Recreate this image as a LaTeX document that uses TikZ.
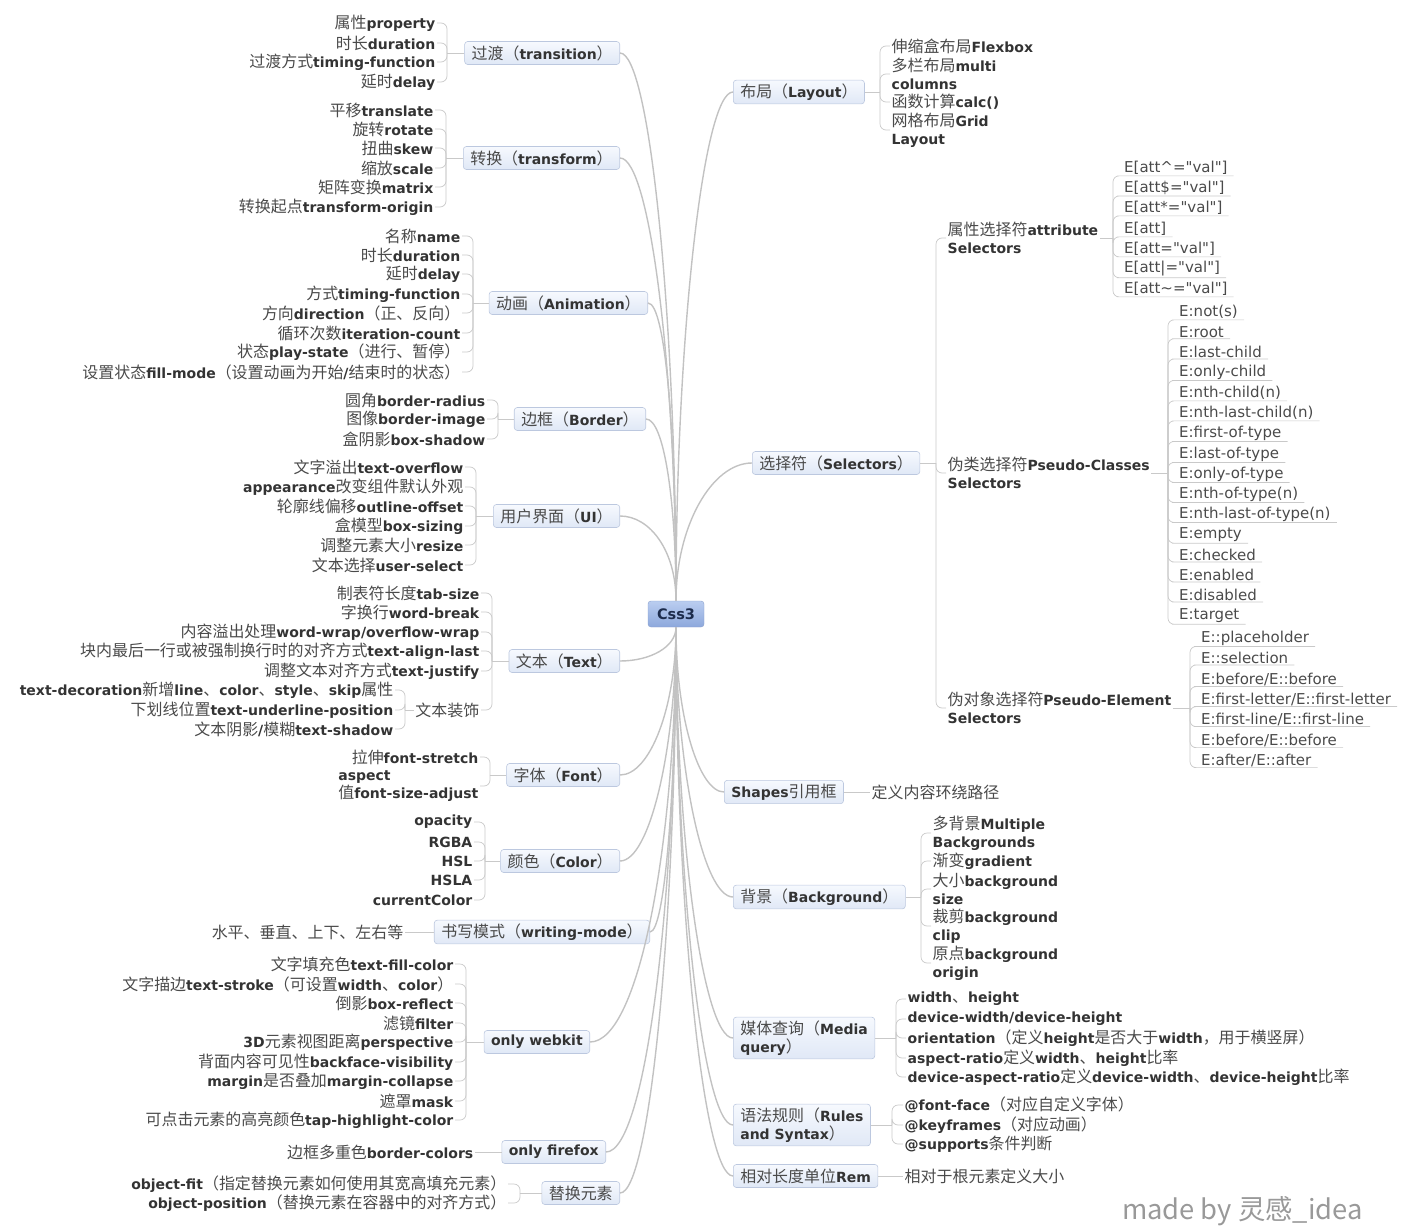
\documentclass[tikz,border=0pt]{standalone}
\usepackage{fontspec}
\setmainfont{Noto Sans CJK SC}[Scale=1.14]
\newfontfamily\enfont{DejaVu Sans}
\newcommand\kw[1]{{\enfont\bfseries\color{kwink}#1}}
\definecolor{ink}{HTML}{4A4A4A}
\definecolor{kwink}{HTML}{333333}
\definecolor{rootink}{HTML}{1C2B4C}
\definecolor{boxline}{HTML}{BCC8DF}
\definecolor{boxtop}{HTML}{F6F9FE}
\definecolor{boxbot}{HTML}{E0E8F6}
\definecolor{roottop}{HTML}{BACDF0}
\definecolor{rootbot}{HTML}{8DA8DC}
\definecolor{rootline}{HTML}{8AA0CC}
\definecolor{twig}{HTML}{C9C9C9}
\definecolor{bough}{HTML}{C2C2C2}
\tikzset{
  root/.style={draw=rootline, top color=roottop, bottom color=rootbot, rounded corners=3pt,
    minimum width=56pt, minimum height=26pt, text=rootink,
    font={\fontsize{14.5}{16}\selectfont\enfont\bfseries}},
  branch/.style={draw=boxline, top color=boxtop, bottom color=boxbot, rounded corners=3pt,
    inner xsep=7pt, inner ysep=3.5pt, minimum height=23pt, align=left, line width=0.6pt},
  leafl/.style={anchor=east, inner sep=1.5pt, align=left},
  leafr/.style={anchor=west, inner sep=1.5pt, align=left},
  selleaf/.style={anchor=west, inner sep=1pt, font={\fontsize{15}{18}\selectfont\enfont}},
  twigline/.style={draw=twig, line width=0.7pt, rounded corners=6pt},
  boughline/.style={draw=bough, line width=1.4pt}
}
\begin{document}
\begin{tikzpicture}[x=1pt,y=-1pt,font=\fontsize{14}{18}\selectfont,text=ink]
\useasboundingbox (0,0) rectangle (1414,1228);
% centre
\node[root] (css) at (676,614) {Css3};

% left side
\node[branch,anchor=east] (tran) at (620,53) {过渡（\kw{transition}）};
\node[branch,anchor=east] (trf) at (620,158) {转换（\kw{transform}）};
\node[branch,anchor=east] (ani) at (648,303) {动画（\kw{Animation}）};
\node[branch,anchor=east] (bor) at (646,419) {边框（\kw{Border}）};
\node[branch,anchor=east] (ui) at (620,516) {用户界面（\kw{UI}）};
\node[branch,anchor=east] (txt) at (620,661) {文本（\kw{Text}）};
\node[branch,anchor=east] (fnt) at (620,775) {字体（\kw{Font}）};
\node[branch,anchor=east] (clr) at (620,861) {颜色（\kw{Color}）};
\node[branch,anchor=east] (wm) at (650,932) {书写模式（\kw{writing-mode}）};
\node[branch,anchor=east] (wk) at (590,1042) {\kw{only webkit}};
\node[branch,anchor=east] (ff) at (606,1152) {\kw{only firefox}};
\node[branch,anchor=east] (rep) at (620,1193) {替换元素};

% right side
\node[branch,anchor=west] (lay) at (733,92) {布局（\kw{Layout}）};
\node[branch,anchor=west] (sel) at (752,463) {选择符（\kw{Selectors}）};
\node[branch,anchor=west] (shp) at (724,792) {\kw{Shapes}引用框};
\node[branch,anchor=west] (bg) at (733,897) {背景（\kw{Background}）};
\node[branch,anchor=west] (med) at (733,1038) {媒体查询（\kw{Media}\\\kw{query}）};
\node[branch,anchor=west] (rul) at (733,1125) {语法规则（\kw{Rules}\\\kw{and Syntax}）};
\node[branch,anchor=west] (rem) at (733,1176) {相对长度单位\kw{Rem}};

% boughs from the centre
\foreach \n/\d/\e in {tran/280/30, trf/230/30, ani/160/18, bor/100/18, ui/50/30}
  \draw[boughline] (css.north) .. controls +(0,-\d) and +(\e,0) .. (\n.east);
\foreach \n/\d/\e in {txt/20/30, fnt/80/30, clr/120/30, wm/160/15, wk/210/50, ff/270/40, rep/290/30}
  \draw[boughline] (css.south) .. controls +(0,\d) and +(\e,0) .. (\n.east);
\foreach \n/\d/\e in {lay/260/30, sel/75/40}
  \draw[boughline] (css.north) .. controls +(0,-\d) and +(-\e,0) .. (\n.west);
\foreach \n/\d/\e in {shp/90/25, bg/140/30, med/210/30, rul/255/30, rem/280/30}
  \draw[boughline] (css.south) .. controls +(0,\d) and +(-\e,0) .. (\n.west);

% junctions
\coordinate (tranj) at (447,53);
\coordinate (trfj) at (446,158);
\coordinate (anij) at (473,303);
\coordinate (borj) at (498,419);
\coordinate (uij) at (476,516);
\coordinate (txtj) at (492,661);
\coordinate (decoj) at (405,710);
\coordinate (fntj) at (490,775);
\coordinate (clrj) at (485,861);
\coordinate (wkj) at (466,1042);
\coordinate (repj) at (520,1193);
\coordinate (layj) at (880,92);
\coordinate (selj) at (936,463);
\coordinate (attrj) at (1113,238);
\coordinate (pclsj) at (1168,473);
\coordinate (pelej) at (1190,708);
\coordinate (bgj) at (921,897);
\coordinate (medj) at (896,1038);
\coordinate (rulj) at (892,1125);
\foreach \n in {tran,trf,ani,bor,ui,txt,fnt,clr,wk,rep}
  \draw[twigline] (\n.west) -- (\n j);
\foreach \n in {lay,sel,bg,med,rul}
  \draw[twigline] (\n.east) -- (\n j);

% transition
\foreach \y/\lbl [count=\i] in {23/{属性\kw{property}},43/{时长\kw{duration}},
    62/{过渡方式\kw{timing-function}},82/{延时\kw{delay}}}{
  \node[leafl] (tran\i) at (437,\y) {\lbl};
  \draw[twigline] (tranj) |- (tran\i.east);
}
% transform
\foreach \y/\lbl [count=\i] in {110/{平移\kw{translate}},129/{旋转\kw{rotate}},148/{扭曲\kw{skew}},
    168/{缩放\kw{scale}},187/{矩阵变换\kw{matrix}},207/{转换起点\kw{transform-origin}}}{
  \node[leafl] (trf\i) at (435,\y) {\lbl};
  \draw[twigline] (trfj) |- (trf\i.east);
}
% animation
\foreach \y/\lbl [count=\i] in {236/{名称\kw{name}},255/{时长\kw{duration}},274/{延时\kw{delay}},
    294/{方式\kw{timing-function}},313/{方向\kw{direction}（正、反向）},
    333/{循环次数\kw{iteration-count}},352/{状态\kw{play-state}（进行、暂停）},
    372/{设置状态\kw{fill-mode}（设置动画为开始\kw{/}结束时的状态）}}{
  \node[leafl] (ani\i) at (462,\y) {\lbl};
  \draw[twigline] (anij) |- (ani\i.east);
}
% border
\foreach \y/\lbl [count=\i] in {400/{圆角\kw{border-radius}},419/{图像\kw{border-image}},
    439/{盒阴影\kw{box-shadow}}}{
  \node[leafl] (bor\i) at (487,\y) {\lbl};
  \draw[twigline] (borj) |- (bor\i.east);
}
% ui
\foreach \y/\lbl [count=\i] in {467/{文字溢出\kw{text-overflow}},487/{\kw{appearance}改变组件默认外观},
    506/{轮廓线偏移\kw{outline-offset}},526/{盒模型\kw{box-sizing}},
    545/{调整元素大小\kw{resize}},565/{文本选择\kw{user-select}}}{
  \node[leafl] (ui\i) at (465,\y) {\lbl};
  \draw[twigline] (uij) |- (ui\i.east);
}
% text
\foreach \y/\lbl [count=\i] in {593/{制表符长度\kw{tab-size}},612/{字换行\kw{word-break}},
    632/{内容溢出处理\kw{word-wrap/overflow-wrap}},
    651/{块内最后一行或被强制换行时的对齐方式\kw{text-align-last}},
    671/{调整文本对齐方式\kw{text-justify}},710/{文本装饰}}{
  \node[leafl] (txt\i) at (481,\y) {\lbl};
  \draw[twigline] (txtj) |- (txt\i.east);
}
\draw[twigline] (txt6.west) -- (decoj);
\foreach \y/\lbl [count=\i] in {690/{\kw{text-decoration}新增\kw{line}、\kw{color}、\kw{style}、\kw{skip}属性},
    710/{下划线位置\kw{text-underline-position}},729/{文本阴影\kw{/}模糊\kw{text-shadow}}}{
  \node[leafl] (deco\i) at (395,\y) {\lbl};
  \draw[twigline] (decoj) |- (deco\i.east);
}
% font
\foreach \y/\lbl [count=\i] in {757/{拉伸\kw{font-stretch}},786/{\kw{aspect}\\值\kw{font-size-adjust}}}{
  \node[leafl] (fnt\i) at (480,\y) {\lbl};
  \draw[twigline] (fntj) |- (fnt\i.east);
}
% color
\foreach \y/\lbl [count=\i] in {822/{\kw{opacity}},842/{\kw{RGBA}},861/{\kw{HSL}},880/{\kw{HSLA}},
    900/{\kw{currentColor}}}{
  \node[leafl] (clr\i) at (474,\y) {\lbl};
  \draw[twigline] (clrj) |- (clr\i.east);
}
% writing mode
\node[leafl] (wm1) at (405,932) {水平、垂直、上下、左右等};
\draw[twigline] (wm.west) -- (wm1.east);
% webkit
\foreach \y/\lbl [count=\i] in {964/{文字填充色\kw{text-fill-color}},
    984/{文字描边\kw{text-stroke}（可设置\kw{width}、\kw{color}）},1003/{倒影\kw{box-reflect}},
    1023/{滤镜\kw{filter}},1042/{\kw{3D}元素视图距离\kw{perspective}},
    1062/{背面内容可见性\kw{backface-visibility}},1081/{\kw{margin}是否叠加\kw{margin-collapse}},
    1101/{遮罩\kw{mask}},1120/{可点击元素的高亮颜色\kw{tap-highlight-color}}}{
  \node[leafl] (wk\i) at (455,\y) {\lbl};
  \draw[twigline] (wkj) |- (wk\i.east);
}
% firefox
\node[leafl] (ff1) at (475,1152) {边框多重色\kw{border-colors}};
\draw[twigline] (ff.west) -- (ff1.east);
% replaced elements
\foreach \y/\lbl [count=\i] in {1184/{\kw{object-fit}（指定替换元素如何使用其宽高填充元素）},
    1203/{\kw{object-position}（替换元素在容器中的对齐方式）}}{
  \node[leafl] (rep\i) at (508,\y) {\lbl};
  \draw[twigline] (repj) |- (rep\i.east);
}

% layout
\foreach \y/\lbl [count=\i] in {46/{伸缩盒布局\kw{Flexbox}},74/{多栏布局\kw{multi}\\\kw{columns}},
    102/{函数计算\kw{calc()}},130/{网格布局\kw{Grid}\\\kw{Layout}}}{
  \node[leafr] (lay\i) at (890,\y) {\lbl};
  \draw[twigline] (layj) |- (lay\i.west);
}
% selectors
\node[leafr] (attr) at (946,238) {属性选择符\kw{attribute}\\\kw{Selectors}};
\node[leafr] (pcls) at (946,473) {伪类选择符\kw{Pseudo-Classes}\\\kw{Selectors}};
\node[leafr] (pele) at (946,708) {伪对象选择符\kw{Pseudo-Element}\\\kw{Selectors}};
\foreach \n in {attr,pcls,pele}{
  \draw[twigline] (selj) |- (\n.west);
  \draw[twigline] (\n.east) -- (\n j);
}
\foreach \y/\lbl [count=\i] in {168/{E[att\textasciicircum="val"]},188/{E[att\$="val"]},
    208/{E[att*="val"]},229/{E[att]},249/{E[att="val"]},269/{E[att|="val"]},
    289/{E[att\textasciitilde="val"]}}{
  \node[selleaf] (at\i) at (1123,\y) {\lbl};
  \draw[twigline] (attrj) |- (at\i.south west) -- ([xshift=5pt]at\i.south east);
}
\foreach \y/\lbl [count=\i] in {312/{E:not(s)},332/{E:root},352/{E:last-child},372/{E:only-child},
    393/{E:nth-child(n)},413/{E:nth-last-child(n)},433/{E:first-of-type},454/{E:last-of-type},
    474/{E:only-of-type},494/{E:nth-of-type(n)},514/{E:nth-last-of-type(n)},535/{E:empty},
    555/{E:checked},575/{E:enabled},595/{E:disabled},616/{E:target}}{
  \node[selleaf] (pc\i) at (1178,\y) {\lbl};
  \draw[twigline] (pclsj) |- (pc\i.south west) -- ([xshift=5pt]pc\i.south east);
}
\foreach \y/\lbl [count=\i] in {638/{E::placeholder},658/{E::selection},679/{E:before/E::before},
    699/{E:first-letter/E::first-letter},719/{E:first-line/E::first-line},
    740/{E:before/E::before},760/{E:after/E::after}}{
  \node[selleaf] (pe\i) at (1200,\y) {\lbl};
  \draw[twigline] (pelej) |- (pe\i.south west) -- ([xshift=5pt]pe\i.south east);
}
% shapes
\node[leafr] (shp1) at (870,792) {定义内容环绕路径};
\draw[twigline] (shp.east) -- (shp1.west);
% background
\foreach \y/\lbl [count=\i] in {833/{多背景\kw{Multiple}\\\kw{Backgrounds}},861/{渐变\kw{gradient}},
    889/{大小\kw{background}\\\kw{size}},926/{裁剪\kw{background}\\\kw{clip}},
    963/{原点\kw{background}\\\kw{origin}}}{
  \node[leafr] (bg\i) at (931,\y) {\lbl};
  \draw[twigline] (bgj) |- (bg\i.west);
}
% media
\foreach \y/\lbl [count=\i] in {999/{\kw{width}、\kw{height}},1019/{\kw{device-width/device-height}},
    1038/{\kw{orientation}（定义\kw{height}是否大于\kw{width}，用于横竖屏）},
    1058/{\kw{aspect-ratio}定义\kw{width}、\kw{height}比率},
    1077/{\kw{device-aspect-ratio}定义\kw{device-width}、\kw{device-height}比率}}{
  \node[leafr] (med\i) at (906,\y) {\lbl};
  \draw[twigline] (medj) |- (med\i.west);
}
% rules
\foreach \y/\lbl [count=\i] in {1105/{\kw{@font-face}（对应自定义字体）},1125/{\kw{@keyframes}（对应动画）},
    1144/{\kw{@supports}条件判断}}{
  \node[leafr] (rul\i) at (903,\y) {\lbl};
  \draw[twigline] (rulj) |- (rul\i.west);
}
% rem
\node[leafr] (rem1) at (903,1176) {相对于根元素定义大小};
\draw[twigline] (rem.east) -- (rem1.west);

\node[anchor=west, text=black!40, font=\fontsize{24}{26}\selectfont] (credit) at (1118,1211) {made by 灵感\_idea};
\end{tikzpicture}
\end{document}
